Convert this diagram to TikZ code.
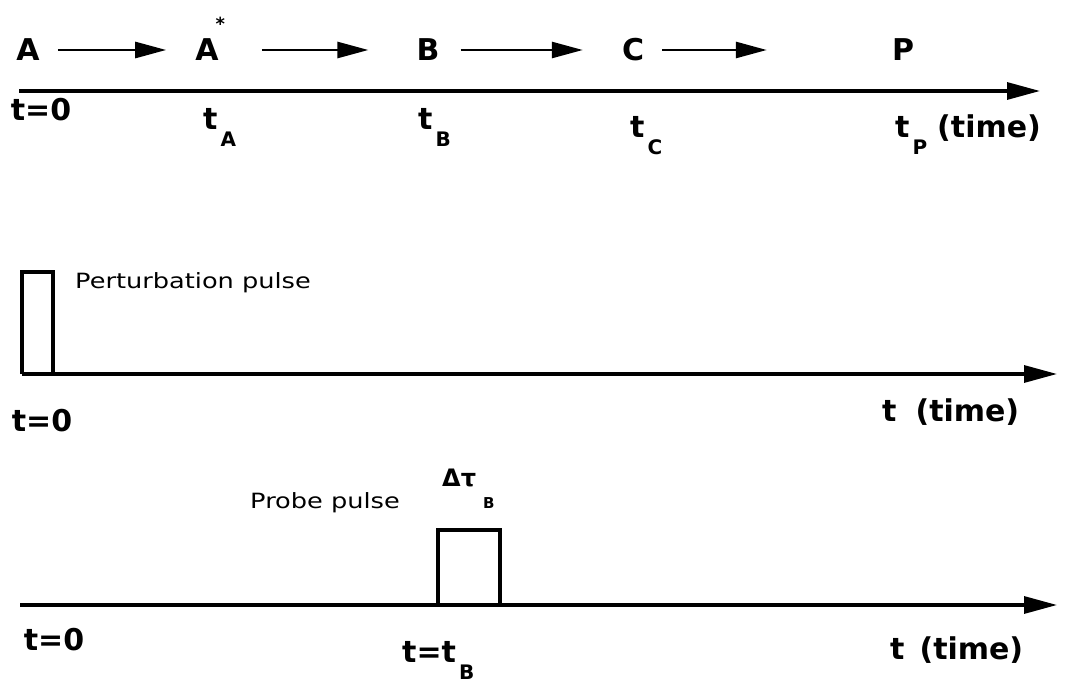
\documentclass[tikz,border=0pt]{standalone}
\usepackage{fontspec}
\setmainfont{DejaVu Sans}
\usetikzlibrary{arrows.meta,positioning}

% #1 kern, #2 drop, #3 size, #4 text
\newcommand{\lowsub}[4]{\kern#1\raisebox{-#2}{\fontsize{#3}{#3}\selectfont #4}}

\begin{document}
\begin{tikzpicture}[x=1pt, y=-1pt,
  species/.style={font=\fontsize{30}{32}\selectfont\bfseries, inner sep=0pt},
  tlabel/.style={font=\fontsize{30}{32}\selectfont\bfseries, inner sep=0pt,
                 anchor=base west},
  note/.style={font=\fontsize{21}{23}\selectfont, inner sep=0pt, anchor=west,
               xscale=1.22},
  react/.style={-{Triangle[length=31pt,width=16pt]}, line width=2.7pt},
  axis/.style={-{Triangle[length=33pt,width=17pt]}, line width=3.2pt},
  pulse/.style={line width=3.2pt, line join=miter},
]
  \useasboundingbox (0,0) rectangle (1073,684);

  % Reaction sequence.
  \node[species] (A) at (28,50) {A};
  \node[species] (Astar) at (207,50)
    {A\rlap{\kern-3pt\smash{\raisebox{30pt}{\fontsize{18}{18}\selectfont *}}}};
  \node[species] (B) at (428,50) {B};
  \node[species] (C) at (633,50) {C};
  \node[species] (P) at (903,50) {P};
  \draw[react, shorten <=18pt, shorten >=29pt] (A) -- (Astar);
  \draw[react, shorten <=43pt, shorten >=48pt] (Astar) -- (B);
  \draw[react, shorten <=21pt, shorten >=39pt] (B) -- (C);
  \draw[react, shorten <=18pt, shorten >=125pt] (C) -- (P);

  % Time axis of the sequence.
  \coordinate (top-start) at (19,91);
  \coordinate (top-end) at (1040,91);
  \draw[axis] (top-start) -- (top-end);
  \node[species] (top-t0) at (41,110) {t=0};
  \node[tlabel] (tA) at (203,130) {t\lowsub{3pt}{17pt}{20}{A}};
  \node[tlabel] (tB) at (418,130) {t\lowsub{3pt}{17pt}{20}{B}};
  \node[tlabel] (tC) at (630,138) {t\lowsub{3pt}{17pt}{20}{C}};
  \node[tlabel] (tP) at (895,138) {t\lowsub{3pt}{17pt}{20}{P}\hspace{10pt}(time)};

  % Perturbation pulse.
  \coordinate (mid-start) at (22,374);
  \coordinate (mid-end) at (1057,374);
  \draw[pulse] (mid-start) -- (22,272) -- (53,272) -- (53,374);
  \draw[axis] (mid-start) -- (mid-end);
  \node[note] (pert) at (75,283) {Perturbation pulse};
  \node[species] (mid-t0) at (42,421) {t=0};
  \node[species, anchor=west] (mid-time) at (882,412) {t\hspace{19pt}(time)};

  % Probe pulse.
  \coordinate (bot-start) at (20,605);
  \coordinate (bot-end) at (1057,605);
  \draw[axis] (bot-start) -- (bot-end);
  \draw[pulse] (438,605) -- (438,530) -- (500,530) -- (500,605);
  \node[note] (probe) at (250,503) {Probe pulse};
  \node[tlabel, font=\fontsize{24}{26}\selectfont\bfseries] (dtau) at (442,486)
    {Δτ\lowsub{7pt}{22pt}{15}{B}};
  \node[species] (bot-t0) at (54,640) {t=0};
  \node[tlabel] (tprobe) at (402,662) {t=t\lowsub{3pt}{17pt}{20}{B}};
  \node[species, anchor=west] (bot-time) at (890,650) {t\hspace{15pt}(time)};
\end{tikzpicture}
\end{document}
